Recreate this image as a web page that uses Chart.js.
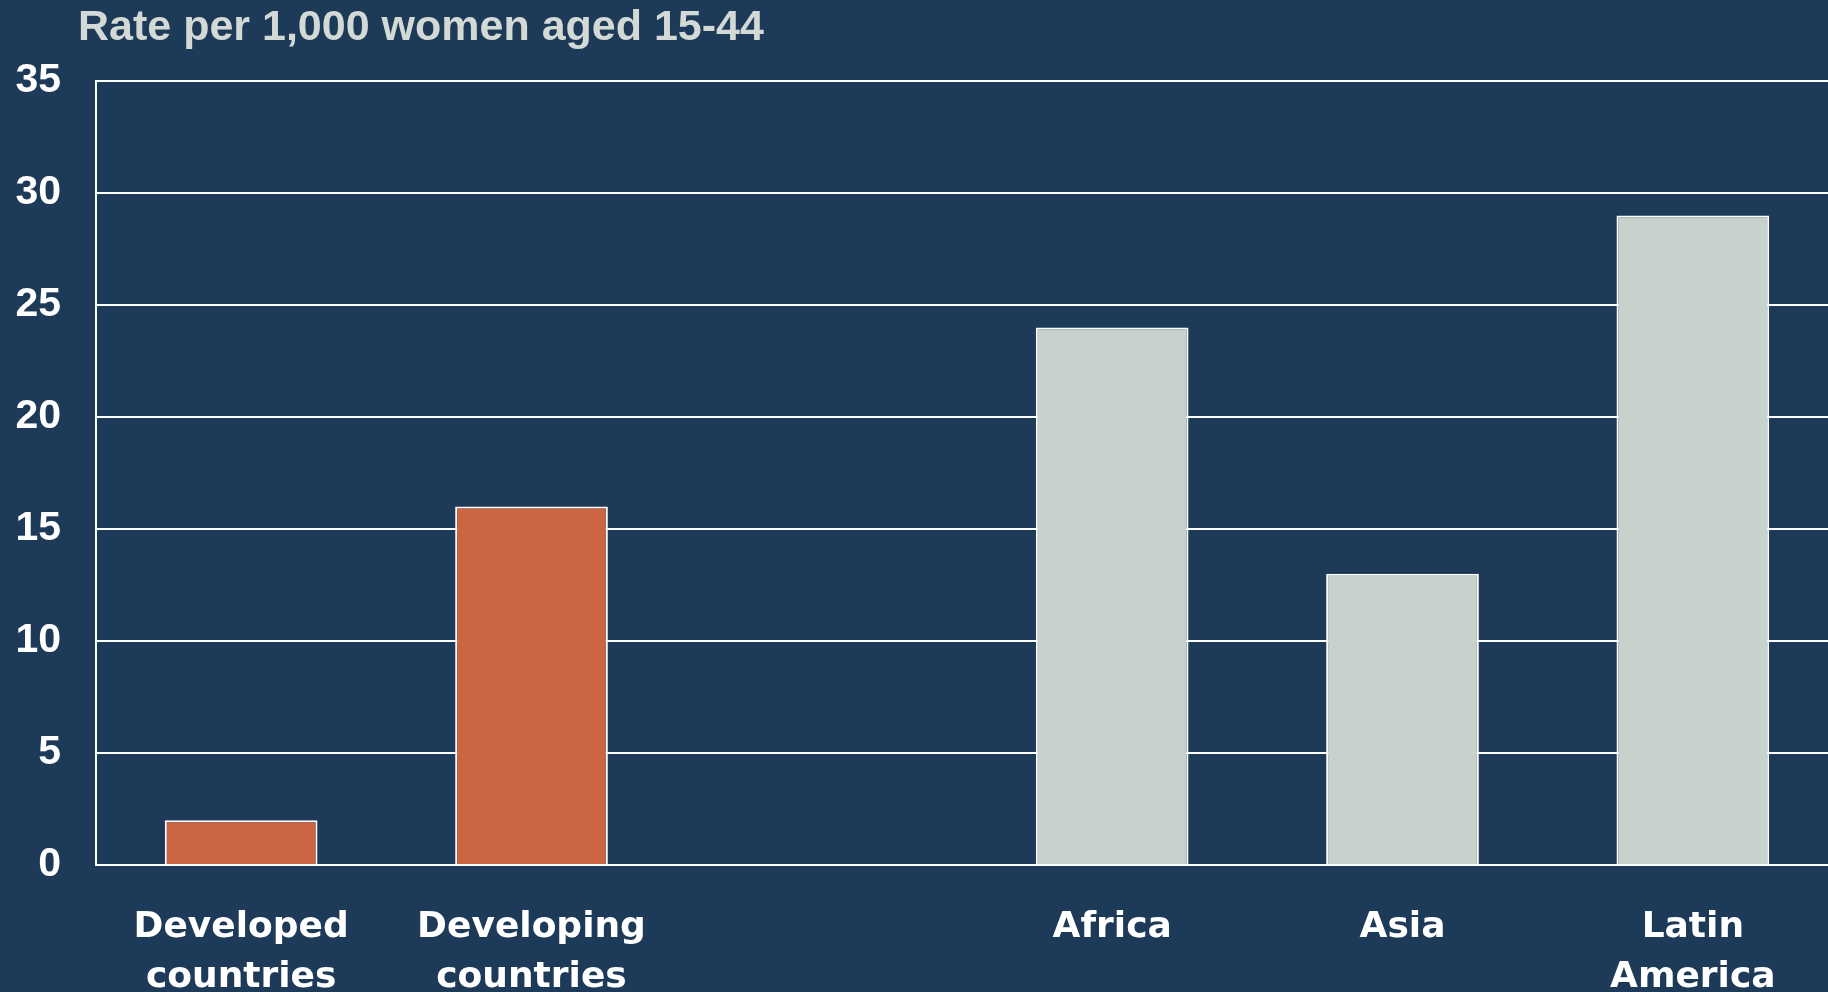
<!DOCTYPE html>
<html>
<head>
<meta charset="utf-8">
<script src="https://cdn.jsdelivr.net/npm/chart.js@4"></script>
<style>
  html, body { margin: 0; padding: 0; background: #1E3A59; overflow: hidden; }
  #wrap { position: absolute; left: 0; top: 0; width: 1838px; height: 992px; }
</style>
</head>
<body>
<div id="wrap"><canvas id="c"></canvas></div>
<script>
const categories = [["Developed", "countries"], ["Developing", "countries"], "", "Africa", "Asia", ["Latin", "America"]];
const values = [2, 16, null, 24, 13, 29];
const barColors = ["#CB6542", "#CB6542", "#CB6542", "#C8D2CD", "#C8D2CD", "#C8D2CD"];
const yTicks = [0, 5, 10, 15, 20, 25, 30, 35];
const titleText = "Rate per 1,000 women aged 15-44";

const titlePlugin = {
  id: 'customTitle',
  afterDraw(chart) {
    const ctx = chart.ctx;
    ctx.save();
    ctx.font = 'bold 43px "Liberation Sans", Arial, sans-serif';
    ctx.fillStyle = '#D3D9D5';
    ctx.textAlign = 'left';
    ctx.textBaseline = 'alphabetic';
    ctx.fillText(titleText, 78, 40);
    ctx.restore();
  }
};

new Chart(document.getElementById('c'), {
  type: 'bar',
  data: {
    labels: categories,
    datasets: [{
      data: values,
      backgroundColor: barColors,
      borderColor: '#FFFFFF',
      borderWidth: 2,
      borderSkipped: 'bottom',
      barPercentage: 0.526,
      categoryPercentage: 1.0
    }]
  },
  options: {
    responsive: true,
    maintainAspectRatio: false,
    animation: false,
    layout: { padding: { top: 81, right: 0, bottom: 0, left: 0 } },
    plugins: { legend: { display: false }, tooltip: { enabled: false }, title: { display: false } },
    scales: {
      x: {
        grid: { display: false, drawTicks: false },
        border: { display: false },
        ticks: {
          color: '#FFFFFF',
          font: { family: '"DejaVu Sans", Verdana, sans-serif', weight: 'bold', size: 36, lineHeight: 1.38 },
          padding: 38,
          maxRotation: 0,
          autoSkip: false
        },
        afterFit(scale) { scale.height = 992 - 865; }
      },
      y: {
        min: 0, max: 35,
        afterBuildTicks(scale) { scale.ticks = yTicks.map(v => ({ value: v })); },
        grid: { color: '#FFFFFF', lineWidth: 2, drawTicks: false },
        border: { display: true, color: '#FFFFFF', width: 2 },
        ticks: {
          color: '#FFFFFF',
          font: { family: '"Liberation Sans", Arial, sans-serif', weight: 'bold', size: 41 },
          padding: 35
        },
        afterFit(scale) { scale.width = 96; }
      }
    }
  },
  plugins: [titlePlugin]
});
</script>
</body>
</html>
